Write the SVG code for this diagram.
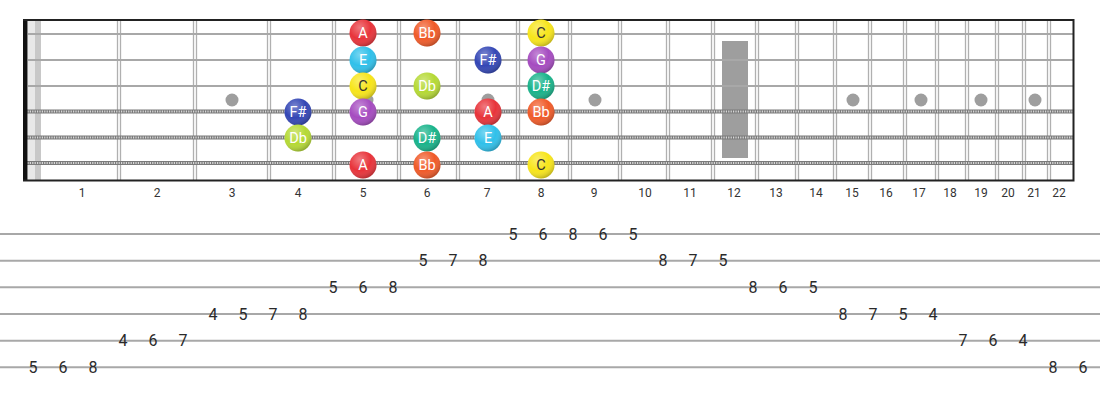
<svg xmlns="http://www.w3.org/2000/svg" width="1100" height="400" viewBox="0 0 1100 400">
<style>
.fret{stroke:#b0b0b0;stroke-width:1.3}
.plain{stroke:#a8a8a8;stroke-width:2.2}
.woundA{stroke:#7a7a7a;stroke-width:4}
.woundB{stroke:#d8d8d8;stroke-width:1.8;stroke-dasharray:1.2 1.2}
.dot{fill:#9e9e9e}
.fn{font-family:Roboto,"Liberation Sans",sans-serif;font-size:12px;fill:#333;text-anchor:middle}
.nt{font-family:Roboto,"Liberation Sans",sans-serif;font-size:14.5px;fill:#fff;text-anchor:middle;dominant-baseline:central}
.dk{fill:#333}
.tab{stroke:#a8a8a8;stroke-width:2}
.tn{font-family:Roboto,"Liberation Sans",sans-serif;font-size:16px;fill:#2a2a2a;text-anchor:middle;dominant-baseline:central}
</style>
<defs>
<radialGradient id="sh" cx="0.38" cy="0.3" r="0.75">
<stop offset="0" stop-color="#fff" stop-opacity="0.35"/>
<stop offset="0.55" stop-color="#fff" stop-opacity="0"/>
<stop offset="1" stop-color="#000" stop-opacity="0.28"/>
</radialGradient>
</defs>
<rect width="1100" height="400" fill="#fff"/>
<g id="fretboard">
<rect x="28" y="20" width="7" height="160" fill="#e8e8e8"/>
<rect x="35" y="20" width="6" height="160" fill="#c8c8c8"/>
<g id="frets">
<line class="fret" x1="117.5" y1="20" x2="117.5" y2="180"/><line class="fret" x1="120.5" y1="20" x2="120.5" y2="180"/>
<line class="fret" x1="193.5" y1="20" x2="193.5" y2="180"/><line class="fret" x1="196.5" y1="20" x2="196.5" y2="180"/>
<line class="fret" x1="267.5" y1="20" x2="267.5" y2="180"/><line class="fret" x1="270.5" y1="20" x2="270.5" y2="180"/>
<line class="fret" x1="332.5" y1="20" x2="332.5" y2="180"/><line class="fret" x1="335.5" y1="20" x2="335.5" y2="180"/>
<line class="fret" x1="397.5" y1="20" x2="397.5" y2="180"/><line class="fret" x1="400.5" y1="20" x2="400.5" y2="180"/>
<line class="fret" x1="456.5" y1="20" x2="456.5" y2="180"/><line class="fret" x1="459.5" y1="20" x2="459.5" y2="180"/>
<line class="fret" x1="516.5" y1="20" x2="516.5" y2="180"/><line class="fret" x1="519.5" y1="20" x2="519.5" y2="180"/>
<line class="fret" x1="568.5" y1="20" x2="568.5" y2="180"/><line class="fret" x1="571.5" y1="20" x2="571.5" y2="180"/>
<line class="fret" x1="618.5" y1="20" x2="618.5" y2="180"/><line class="fret" x1="621.5" y1="20" x2="621.5" y2="180"/>
<line class="fret" x1="666.5" y1="20" x2="666.5" y2="180"/><line class="fret" x1="669.5" y1="20" x2="669.5" y2="180"/>
<line class="fret" x1="711.5" y1="20" x2="711.5" y2="180"/><line class="fret" x1="714.5" y1="20" x2="714.5" y2="180"/>
<line class="fret" x1="755.5" y1="20" x2="755.5" y2="180"/><line class="fret" x1="758.5" y1="20" x2="758.5" y2="180"/>
<line class="fret" x1="795.5" y1="20" x2="795.5" y2="180"/><line class="fret" x1="798.5" y1="20" x2="798.5" y2="180"/>
<line class="fret" x1="833.5" y1="20" x2="833.5" y2="180"/><line class="fret" x1="836.5" y1="20" x2="836.5" y2="180"/>
<line class="fret" x1="868.5" y1="20" x2="868.5" y2="180"/><line class="fret" x1="871.5" y1="20" x2="871.5" y2="180"/>
<line class="fret" x1="903.5" y1="20" x2="903.5" y2="180"/><line class="fret" x1="906.5" y1="20" x2="906.5" y2="180"/>
<line class="fret" x1="935.5" y1="20" x2="935.5" y2="180"/><line class="fret" x1="938.5" y1="20" x2="938.5" y2="180"/>
<line class="fret" x1="965.5" y1="20" x2="965.5" y2="180"/><line class="fret" x1="968.5" y1="20" x2="968.5" y2="180"/>
<line class="fret" x1="995.5" y1="20" x2="995.5" y2="180"/><line class="fret" x1="998.5" y1="20" x2="998.5" y2="180"/>
<line class="fret" x1="1022.5" y1="20" x2="1022.5" y2="180"/><line class="fret" x1="1025.5" y1="20" x2="1025.5" y2="180"/>
<line class="fret" x1="1047.5" y1="20" x2="1047.5" y2="180"/><line class="fret" x1="1050.5" y1="20" x2="1050.5" y2="180"/>
</g>
<g id="inlays">
<circle class="dot" cx="232" cy="100" r="6.5"/>
<circle class="dot" cx="367" cy="100" r="6.5"/>
<circle class="dot" cx="488" cy="100" r="6.5"/>
<circle class="dot" cx="595" cy="100" r="6.5"/>
<rect class="dot" x="722" y="41" width="26" height="117"/>
<circle class="dot" cx="853" cy="100" r="6.5"/>
<circle class="dot" cx="921" cy="100" r="6.5"/>
<circle class="dot" cx="981" cy="100" r="6.5"/>
<circle class="dot" cx="1035" cy="100" r="6.5"/>
</g>
<g id="strings">
<line class="plain" x1="28" y1="34" x2="1073" y2="34"/>
<line class="plain" x1="28" y1="60" x2="1073" y2="60"/>
<line class="plain" x1="28" y1="86" x2="1073" y2="86"/>
<line class="woundA" x1="25" y1="111.5" x2="1073" y2="111.5"/><line class="woundB" x1="25" y1="111.5" x2="1073" y2="111.5"/>
<line class="woundA" x1="25" y1="137.5" x2="1073" y2="137.5"/><line class="woundB" x1="25" y1="137.5" x2="1073" y2="137.5"/>
<line class="woundA" x1="25" y1="163" x2="1073" y2="163"/><line class="woundB" x1="25" y1="163" x2="1073" y2="163"/>
</g>
<rect x="23" y="20" width="4.5" height="161" fill="#111"/>
<path d="M23 20H1073.5V180.5H23" fill="none" stroke="#222" stroke-width="2"/>
</g>
<g id="fret-numbers">
<text class="fn" x="82" y="197">1</text><text class="fn" x="157" y="197">2</text><text class="fn" x="232" y="197">3</text>
<text class="fn" x="298" y="197">4</text><text class="fn" x="363" y="197">5</text><text class="fn" x="427" y="197">6</text>
<text class="fn" x="487" y="197">7</text><text class="fn" x="541" y="197">8</text><text class="fn" x="594" y="197">9</text>
<text class="fn" x="645" y="197">10</text><text class="fn" x="690" y="197">11</text><text class="fn" x="734" y="197">12</text>
<text class="fn" x="776" y="197">13</text><text class="fn" x="816" y="197">14</text><text class="fn" x="852" y="197">15</text>
<text class="fn" x="886" y="197">16</text><text class="fn" x="919" y="197">17</text><text class="fn" x="950" y="197">18</text>
<text class="fn" x="981" y="197">19</text><text class="fn" x="1008" y="197">20</text><text class="fn" x="1034" y="197">21</text>
<text class="fn" x="1059" y="197">22</text>
</g>
<g id="notes">
<g id="n1-A"><circle cx="363" cy="33" r="13.5" fill="#e8333a"/><circle cx="363" cy="33" r="13.5" fill="url(#sh)"/><text class="nt" x="363" y="33">A</text></g>
<g id="n1-Bb"><circle cx="427" cy="33" r="13.5" fill="#f05a28"/><circle cx="427" cy="33" r="13.5" fill="url(#sh)"/><text class="nt" x="427" y="33">Bb</text></g>
<g id="n1-C"><circle cx="541" cy="33" r="13.5" fill="#f7e51a"/><circle cx="541" cy="33" r="13.5" fill="url(#sh)"/><text class="nt dk" x="541" y="33">C</text></g>
<g id="n2-E"><circle cx="363" cy="60" r="13.5" fill="#2fc0ea"/><circle cx="363" cy="60" r="13.5" fill="url(#sh)"/><text class="nt" x="363" y="60">E</text></g>
<g id="n2-Fs"><circle cx="488" cy="60" r="13.5" fill="#3346b5"/><circle cx="488" cy="60" r="13.5" fill="url(#sh)"/><text class="nt" x="488" y="60">F#</text></g>
<g id="n2-G"><circle cx="541" cy="60" r="13.5" fill="#a54bc0"/><circle cx="541" cy="60" r="13.5" fill="url(#sh)"/><text class="nt" x="541" y="60">G</text></g>
<g id="n3-C"><circle cx="363" cy="86" r="13.5" fill="#f7e51a"/><circle cx="363" cy="86" r="13.5" fill="url(#sh)"/><text class="nt dk" x="363" y="86">C</text></g>
<g id="n3-Db"><circle cx="427" cy="86" r="13.5" fill="#b5d935"/><circle cx="427" cy="86" r="13.5" fill="url(#sh)"/><text class="nt" x="427" y="86">Db</text></g>
<g id="n3-Ds"><circle cx="541" cy="86" r="13.5" fill="#18b38a"/><circle cx="541" cy="86" r="13.5" fill="url(#sh)"/><text class="nt" x="541" y="86">D#</text></g>
<g id="n4-Fs"><circle cx="298" cy="112" r="13.5" fill="#3346b5"/><circle cx="298" cy="112" r="13.5" fill="url(#sh)"/><text class="nt" x="298" y="112">F#</text></g>
<g id="n4-G"><circle cx="363" cy="112" r="13.5" fill="#a54bc0"/><circle cx="363" cy="112" r="13.5" fill="url(#sh)"/><text class="nt" x="363" y="112">G</text></g>
<g id="n4-A"><circle cx="488" cy="112" r="13.5" fill="#e8333a"/><circle cx="488" cy="112" r="13.5" fill="url(#sh)"/><text class="nt" x="488" y="112">A</text></g>
<g id="n4-Bb"><circle cx="541" cy="112" r="13.5" fill="#f05a28"/><circle cx="541" cy="112" r="13.5" fill="url(#sh)"/><text class="nt" x="541" y="112">Bb</text></g>
<g id="n5-Db"><circle cx="298" cy="138" r="13.5" fill="#b5d935"/><circle cx="298" cy="138" r="13.5" fill="url(#sh)"/><text class="nt" x="298" y="138">Db</text></g>
<g id="n5-Ds"><circle cx="427" cy="138" r="13.5" fill="#18b38a"/><circle cx="427" cy="138" r="13.5" fill="url(#sh)"/><text class="nt" x="427" y="138">D#</text></g>
<g id="n5-E"><circle cx="488" cy="138" r="13.5" fill="#2fc0ea"/><circle cx="488" cy="138" r="13.5" fill="url(#sh)"/><text class="nt" x="488" y="138">E</text></g>
<g id="n6-A"><circle cx="363" cy="165" r="13.5" fill="#e8333a"/><circle cx="363" cy="165" r="13.5" fill="url(#sh)"/><text class="nt" x="363" y="165">A</text></g>
<g id="n6-Bb"><circle cx="427" cy="165" r="13.5" fill="#f05a28"/><circle cx="427" cy="165" r="13.5" fill="url(#sh)"/><text class="nt" x="427" y="165">Bb</text></g>
<g id="n6-C"><circle cx="541" cy="165" r="13.5" fill="#f7e51a"/><circle cx="541" cy="165" r="13.5" fill="url(#sh)"/><text class="nt dk" x="541" y="165">C</text></g>
</g>
<g id="tab">
<line class="tab" x1="0" y1="234" x2="1100" y2="234"/>
<line class="tab" x1="0" y1="260.7" x2="1100" y2="260.7"/>
<line class="tab" x1="0" y1="287.3" x2="1100" y2="287.3"/>
<line class="tab" x1="0" y1="314" x2="1100" y2="314"/>
<line class="tab" x1="0" y1="340.7" x2="1100" y2="340.7"/>
<line class="tab" x1="0" y1="367.3" x2="1100" y2="367.3"/>
<g id="tab-numbers">
<text class="tn" x="513" y="234">5</text><text class="tn" x="543" y="234">6</text><text class="tn" x="573" y="234">8</text><text class="tn" x="603" y="234">6</text><text class="tn" x="633" y="234">5</text>
<text class="tn" x="423" y="260.7">5</text><text class="tn" x="453" y="260.7">7</text><text class="tn" x="483" y="260.7">8</text><text class="tn" x="663" y="260.7">8</text><text class="tn" x="693" y="260.7">7</text><text class="tn" x="723" y="260.7">5</text>
<text class="tn" x="333" y="287.3">5</text><text class="tn" x="363" y="287.3">6</text><text class="tn" x="393" y="287.3">8</text><text class="tn" x="753" y="287.3">8</text><text class="tn" x="783" y="287.3">6</text><text class="tn" x="813" y="287.3">5</text>
<text class="tn" x="213" y="314">4</text><text class="tn" x="243" y="314">5</text><text class="tn" x="273" y="314">7</text><text class="tn" x="303" y="314">8</text><text class="tn" x="843" y="314">8</text><text class="tn" x="873" y="314">7</text><text class="tn" x="903" y="314">5</text><text class="tn" x="933" y="314">4</text>
<text class="tn" x="123" y="340.7">4</text><text class="tn" x="153" y="340.7">6</text><text class="tn" x="183" y="340.7">7</text><text class="tn" x="963" y="340.7">7</text><text class="tn" x="993" y="340.7">6</text><text class="tn" x="1023" y="340.7">4</text>
<text class="tn" x="33" y="367.3">5</text><text class="tn" x="63" y="367.3">6</text><text class="tn" x="93" y="367.3">8</text><text class="tn" x="1053" y="367.3">8</text><text class="tn" x="1083" y="367.3">6</text>
</g>
</g>
</svg>
